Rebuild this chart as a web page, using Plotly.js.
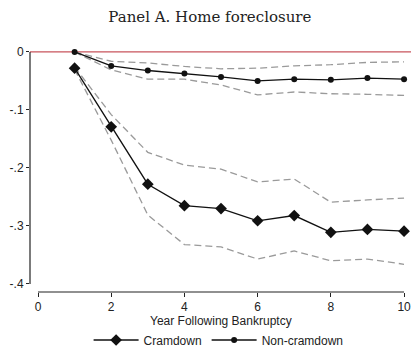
<!DOCTYPE html>
<html>
<head>
<meta charset="utf-8">
<script src="https://cdn.plot.ly/plotly-3.0.1.min.js"></script>
<style>html,body{margin:0;padding:0;background:#fff;}#chart{width:411px;height:348px;}</style>
</head>
<body>
<div id="chart"></div>
<script>
var years = [1, 2, 3, 4, 5, 6, 7, 8, 9, 10];
var cramdown = [-0.028, -0.129, -0.228, -0.265, -0.270, -0.291, -0.282, -0.311, -0.306, -0.309];
var cramdownUpper = [-0.026, -0.108, -0.173, -0.195, -0.202, -0.224, -0.219, -0.259, -0.255, -0.252];
var cramdownLower = [-0.030, -0.152, -0.281, -0.332, -0.336, -0.357, -0.343, -0.360, -0.357, -0.366];
var nonCramdown = [0.000, -0.024, -0.032, -0.037, -0.043, -0.050, -0.047, -0.048, -0.045, -0.047];
var nonCramdownUpper = [0.000, -0.016, -0.019, -0.025, -0.029, -0.028, -0.024, -0.022, -0.018, -0.017];
var nonCramdownLower = [0.000, -0.031, -0.047, -0.047, -0.057, -0.074, -0.069, -0.072, -0.073, -0.075];
var xTickVals = [0, 2, 4, 6, 8, 10];
var yTickVals = [0, -0.1, -0.2, -0.3, -0.4];
var yTickText = ['0', '-.1', '-.2', '-.3', '-.4'];
var xTitle = 'Year Following Bankruptcy';

var dashStyle = {color: '#9a9a9a', width: 1.3, dash: '7px,4px'};
var traces = [
  {x: years, y: cramdownUpper, mode: 'lines', line: dashStyle, showlegend: false, hoverinfo: 'skip'},
  {x: years, y: cramdownLower, mode: 'lines', line: dashStyle, showlegend: false, hoverinfo: 'skip'},
  {x: years, y: nonCramdownUpper, mode: 'lines', line: dashStyle, showlegend: false, hoverinfo: 'skip'},
  {x: years, y: nonCramdownLower, mode: 'lines', line: dashStyle, showlegend: false, hoverinfo: 'skip'},
  {x: years, y: cramdown, name: 'Cramdown', mode: 'lines+markers', cliponaxis: false,
   line: {color: '#111', width: 1.3}, marker: {symbol: 'diamond', size: 9, color: '#111'}},
  {x: years, y: nonCramdown, name: 'Non-cramdown', mode: 'lines+markers', cliponaxis: false,
   line: {color: '#111', width: 1.3}, marker: {symbol: 'circle', size: 6, color: '#111'}}
];

var tickFont = {family: 'Liberation Sans, Arial, sans-serif', size: 12, color: '#222'};
var layout = {
  width: 411, height: 348,
  margin: {l: 30, r: 0, t: 45, b: 56, pad: 0},
  paper_bgcolor: '#fff', plot_bgcolor: '#fff',
  title: {text: 'Panel A. Home foreclosure', x: 0.472, xref: 'paper', xanchor: 'center',
          y: 1 - 17 / 348, yref: 'container', yanchor: 'middle',
          font: {family: 'DejaVu Serif, Liberation Serif, serif', size: 15, color: '#222'}},
  xaxis: {range: [-0.2186, 10.19], tickvals: xTickVals, ticks: 'outside', ticklen: 4, tickwidth: 1,
          tickcolor: '#222', showgrid: false, zeroline: false, showline: false, tickfont: tickFont,
          ticklabeloverflow: 'allow'},
  yaxis: {range: [-0.4138, 0.012], tickvals: yTickVals, ticktext: yTickText, ticks: 'outside',
          ticklen: 3, tickwidth: 1, tickcolor: '#222', showgrid: false, zeroline: false, showline: false,
          tickfont: tickFont, ticklabeloverflow: 'allow'},
  annotations: [
    {text: xTitle, xref: 'x', x: 5, yref: 'paper', y: -(321 - 292) / 247, yanchor: 'middle',
     xanchor: 'center', showarrow: false, font: tickFont}
  ],
  showlegend: true,
  legend: {orientation: 'h', x: 0.495, xanchor: 'center', y: 8 / 348, yref: 'container', yanchor: 'middle',
           font: tickFont, itemwidth: 45, tracegroupgap: 0, bgcolor: 'rgba(0,0,0,0)'},
  shapes: [
    {type: 'line', xref: 'paper', x0: 0, x1: 1, yref: 'y', y0: 0, y1: 0,
     line: {color: '#c8545c', width: 1.3}, layer: 'below'},
    {type: 'line', xref: 'x', x0: 0, x1: 10, yref: 'paper', y0: 0, y1: 0,
     line: {color: '#222', width: 1.2}},
    {type: 'line', xref: 'paper', x0: 0, x1: 0, yref: 'y', y0: -0.4, y1: 0,
     line: {color: '#222', width: 1.2}}
  ]
};
Plotly.newPlot('chart', traces, layout, {displayModeBar: false, staticPlot: true});
</script>
</body>
</html>
